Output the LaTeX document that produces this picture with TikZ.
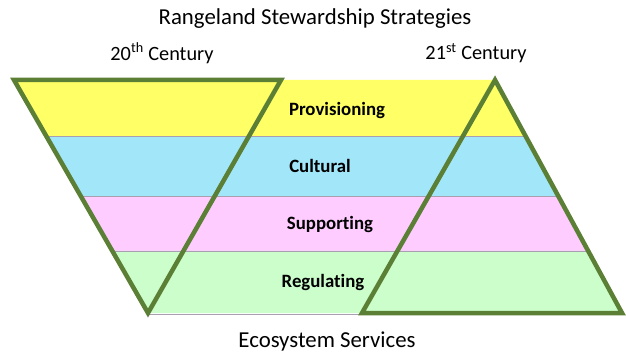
\documentclass[tikz,border=0pt]{standalone}
\usepackage{fontspec}
\setmainfont{Carlito}[Ligatures=NoCommon]
\usetikzlibrary{calc}
\definecolor{bandyellow}{HTML}{FFFF66}
\definecolor{bandcyan}{HTML}{A2E6FA}
\definecolor{bandpink}{HTML}{FECCFE}
\definecolor{bandgreen}{HTML}{CCFECC}
\definecolor{edgegreen}{HTML}{5B7F35}
\definecolor{divider}{HTML}{A8A0B0}
\tikzset{
  x=1pt, y=-1pt,
  bandlabel/.style={font=\fontsize{18.8}{22}\selectfont\bfseries, inner sep=0pt},
  heading/.style={font=\fontsize{22.8}{26}\selectfont, inner sep=0pt},
  subheading/.style={font=\fontsize{20.3}{24}\selectfont, inner sep=0pt},
  frame/.style={draw=edgegreen, line width=4.5pt, line join=miter},
  divline/.style={draw=divider, line width=0.8pt}
}
\begin{document}
\begin{tikzpicture}
\useasboundingbox (0,0) rectangle (626,355);
% corners of the service band parallelogram
\coordinate (TL) at (14,80);
\coordinate (TR) at (495,80);
\coordinate (BR) at (622,313);
\coordinate (BL) at (148,313);
% band boundaries along the slanted sides
\foreach \n/\t in {a/0.2425, b/0.4979, c/0.7339}{
  \coordinate (L\n) at ($(TL)!\t!(BL)$);
  \coordinate (R\n) at ($(TR)!\t!(BR)$);
}
\fill[bandyellow] (TL) -- (TR) -- (Ra) -- (La) -- cycle;
\fill[bandcyan] (La) -- (Ra) -- (Rb) -- (Lb) -- cycle;
\fill[bandpink] (Lb) -- (Rb) -- (Rc) -- (Lc) -- cycle;
\fill[bandgreen] (Lc) -- (Rc) -- (BR) -- (BL) -- cycle;
\draw[divline] (La) -- (Ra);
\draw[divline] (Lb) -- (Rb);
\draw[divline] (Lc) -- (Rc);
\draw[divline] ($(BL)+(0,1.5)$) -- ($(BR)+(0,1.5)$);
% 20th century: inverted triangle
\coordinate (LTa) at (14,80);
\coordinate (LTb) at (281,80);
\coordinate (LTc) at (148,313);
\draw[frame] (LTa) -- (LTb) -- (LTc) -- cycle;
% 21st century: upright triangle
\coordinate (RTa) at (495,80);
\coordinate (RTb) at (622,313);
\coordinate (RTc) at (362,313);
\draw[frame] (RTa) -- (RTb) -- (RTc) -- cycle;
% texts
\node[heading] (title) at (315,19) {Rangeland Stewardship Strategies};
\node[subheading] (c20) at (162,53) {20\textsuperscript{th} Century};
\node[subheading] (c21) at (476,53) {21\textsuperscript{st} Century};
\node[bandlabel] (prov) at (337,110) {Provisioning};
\node[bandlabel] (cult) at (320,166) {Cultural};
\node[bandlabel] (supp) at (330,224) {Supporting};
\node[bandlabel] (regu) at (323,282) {Regulating};
\node[heading] (eco) at (327,341) {Ecosystem Services};
\end{tikzpicture}
\end{document}
